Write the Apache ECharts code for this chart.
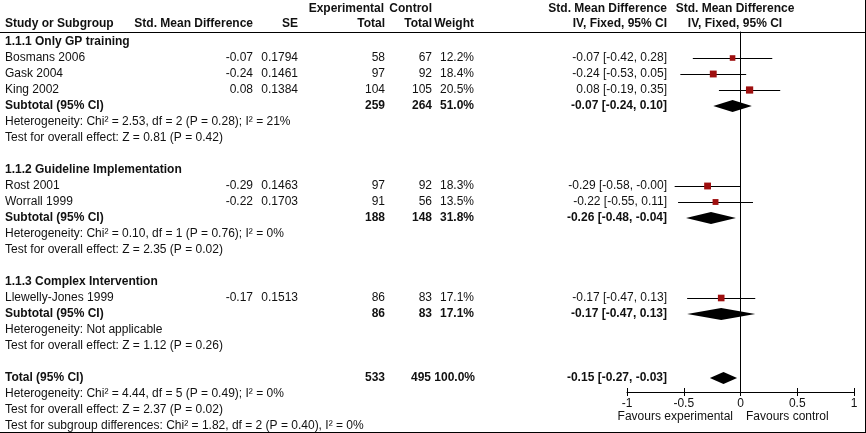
<!DOCTYPE html>
<html>
<head>
<meta charset="utf-8">
<script src="https://cdn.jsdelivr.net/npm/echarts@6/dist/echarts.min.js"></script>
<style>
html,body{margin:0;padding:0;background:#fff;}
#chart{width:866px;height:433px;}
</style>
</head>
<body>
<div id="chart"></div>
<script>
// ---------- data ----------
var studies   = ['Bosmans 2006','Gask 2004','King 2002','Rost 2001','Worrall 1999','Llewelly-Jones 1999'];
var studyRow  = [1, 2, 3, 9, 10, 16];
var smd       = [-0.07, -0.24, 0.08, -0.29, -0.22, -0.17];
var se        = ['0.1794','0.1461','0.1384','0.1463','0.1703','0.1513'];
var expTotal  = [58, 97, 104, 97, 91, 86];
var ctlTotal  = [67, 92, 105, 92, 56, 83];
var weight    = [12.2, 18.4, 20.5, 18.3, 13.5, 17.1];
var ciLow     = [-0.42, -0.53, -0.19, -0.58, -0.55, -0.47];
var ciHigh    = [0.28, 0.05, 0.35, -0.00, 0.11, 0.13];

var groupNames   = ['1.1.1 Only GP training','1.1.2 Guideline Implementation','1.1.3 Complex Intervention'];
var groupRow     = [0, 8, 15];
var subRow       = [4, 11, 17];
var subExp       = [259, 188, 86];
var subCtl       = [264, 148, 83];
var subWeight    = [51.0, 31.8, 17.1];
var subEst       = [-0.07, -0.26, -0.17];
var subLow       = [-0.24, -0.48, -0.47];
var subHigh      = [0.10, -0.04, 0.13];
var subHet       = ['Heterogeneity: Chi\u00b2 = 2.53, df = 2 (P = 0.28); I\u00b2 = 21%',
                    'Heterogeneity: Chi\u00b2 = 0.10, df = 1 (P = 0.76); I\u00b2 = 0%',
                    'Heterogeneity: Not applicable'];
var subEffect    = ['Test for overall effect: Z = 0.81 (P = 0.42)',
                    'Test for overall effect: Z = 2.35 (P = 0.02)',
                    'Test for overall effect: Z = 1.12 (P = 0.26)'];

var totalRow     = 21;
var totalExp     = 533;
var totalCtl     = 495;
var totalWeight  = 100.0;
var totalEst     = -0.15;
var totalLow     = -0.27;
var totalHigh    = -0.03;
var totalNotes   = ['Heterogeneity: Chi\u00b2 = 4.44, df = 5 (P = 0.49); I\u00b2 = 0%',
                    'Test for overall effect: Z = 2.37 (P = 0.02)',
                    'Test for subgroup differences: Chi\u00b2 = 1.82, df = 2 (P = 0.40), I\u00b2 = 0%'];

var xTicks = [-1, -0.5, 0, 0.5, 1];
var favourLeft = 'Favours experimental';
var favourRight = 'Favours control';

// ---------- layout ----------
var FONT = '"Liberation Sans", Arial, sans-serif';
var FS = 12, HFS = 12;
var TXT = '#111';
var ROW0 = 42, ROWH = 16;
var gridTop = 32, gridBottomY = 392, gridLeft = 627, gridRight = 854;
var yMin = (gridTop - ROW0) / ROWH;
var yMax = (gridBottomY - ROW0) / ROWH;
var col = {name:5, smd:253, se:298, exp:385, ctl:432, wt:474, ci:667, plot:735};

function rowY(r){ return ROW0 + r*ROWH; }
function f2(v){ return (v < 0 || Object.is(v, -0)) ? '-' + Math.abs(v).toFixed(2) : v.toFixed(2); }
function ciStr(e,l,h){ return f2(e) + ' [' + f2(l) + ', ' + f2(h) + ']'; }

var texts = [];
function T(str, x, y, align, bold, size){
  texts.push({type:'text', x:x, y:y, silent:true,
    style:{text:str, fill:TXT, font:(bold?'bold ':'') + (size||FS) + 'px ' + FONT,
           textAlign:align||'left', textVerticalAlign:'middle'}});
}
// headers
T('Experimental', 384, 9, 'right', true, HFS);
T('Control', col.ctl, 9, 'right', true, HFS);
T('Std. Mean Difference', col.ci, 9, 'right', true, HFS);
T('Std. Mean Difference', col.plot, 9, 'center', true, HFS);
T('Study or Subgroup', col.name, 24, 'left', true, HFS);
T('Std. Mean Difference', col.smd, 24, 'right', true, HFS);
T('SE', col.se, 24, 'right', true, HFS);
T('Total', col.exp, 24, 'right', true, HFS);
T('Total', col.ctl, 24, 'right', true, HFS);
T('Weight', col.wt, 24, 'right', true, HFS);
T('IV, Fixed, 95% CI', col.ci, 24, 'right', true, HFS);
T('IV, Fixed, 95% CI', col.plot, 24, 'center', true, HFS);

// studies
studies.forEach(function(s,i){
  var y = rowY(studyRow[i]);
  T(s, col.name, y, 'left');
  T(f2(smd[i]), col.smd, y, 'right');
  T(se[i], col.se, y, 'right');
  T(String(expTotal[i]), col.exp, y, 'right');
  T(String(ctlTotal[i]), col.ctl, y, 'right');
  T(weight[i].toFixed(1) + '%', col.wt, y, 'right');
  T(ciStr(smd[i], ciLow[i], ciHigh[i]), col.ci, y, 'right');
});
// groups
groupNames.forEach(function(g,i){
  T(g, col.name, rowY(groupRow[i]), 'left', true);
  var y = rowY(subRow[i]);
  T('Subtotal (95% CI)', col.name, y, 'left', true);
  T(String(subExp[i]), col.exp, y, 'right', true);
  T(String(subCtl[i]), col.ctl, y, 'right', true);
  T(subWeight[i].toFixed(1) + '%', col.wt, y, 'right', true);
  T(ciStr(subEst[i], subLow[i], subHigh[i]), col.ci, y, 'right', true);
  T(subHet[i], col.name, rowY(subRow[i] + 1), 'left');
  T(subEffect[i], col.name, rowY(subRow[i] + 2), 'left');
});
// total
(function(){
  var y = rowY(totalRow);
  T('Total (95% CI)', col.name, y, 'left', true);
  T(String(totalExp), col.exp, y, 'right', true);
  T(String(totalCtl), col.ctl - 1, y, 'right', true);
  T(totalWeight.toFixed(1) + '%', col.wt + 1, y, 'right', true);
  T(ciStr(totalEst, totalLow, totalHigh), col.ci, y, 'right', true);
  totalNotes.forEach(function(n,k){ T(n, col.name, rowY(totalRow + 1 + k), 'left'); });
})();
T(favourLeft, 733, 417, 'right');
T(favourRight, 746, 417, 'left');

// frame lines
var lines = [
  {type:'line', silent:true, shape:{x1:0, y1:32.5, x2:866, y2:32.5}, style:{stroke:'#000', lineWidth:1}},
  {type:'line', silent:true, shape:{x1:0, y1:432.5, x2:866, y2:432.5}, style:{stroke:'#000', lineWidth:1}},
  {type:'line', silent:true, shape:{x1:865.5, y1:0, x2:865.5, y2:433}, style:{stroke:'#000', lineWidth:1}}
];

var studyData = studyRow.map(function(r,i){ return [smd[i], r, ciLow[i], ciHigh[i], weight[i]]; });
var diamondData = subRow.map(function(r,i){ return [subEst[i], r, subLow[i], subHigh[i]]; });
diamondData.push([totalEst, totalRow, totalLow, totalHigh]);

var baseX = {type:'value', min:xTicks[0], max:xTicks[xTicks.length-1], interval:0.5, position:'bottom', splitLine:{show:false}};
var chart = echarts.init(document.getElementById('chart'), null, {renderer:'canvas'});
chart.setOption({
  animation:false,
  backgroundColor:'#fff',
  grid:{left:gridLeft, top:gridTop, width:gridRight-gridLeft, height:gridBottomY-gridTop, containLabel:false},
  xAxis:[
    Object.assign({}, baseX, {
      axisLine:{show:true, onZero:false, lineStyle:{color:'#000', width:1}},
      axisTick:{show:true, length:4, lineStyle:{color:'#000'}},
      axisLabel:{show:true, color:TXT, fontFamily:FONT, fontSize:FS, margin:6,
        formatter:function(v){ return String(v); }}}),
    Object.assign({}, baseX, {
      axisLine:{show:false, onZero:false},
      axisTick:{show:true, inside:true, length:4, lineStyle:{color:'#000'}},
      axisLabel:{show:false}})
  ],
  yAxis:{type:'value', inverse:true, min:yMin, max:yMax,
    axisLine:{show:true, onZero:true, lineStyle:{color:'#000', width:1}},
    axisTick:{show:false}, axisLabel:{show:false}, splitLine:{show:false}},
  graphic:{elements: lines.concat(texts)},
  series:[
    {type:'custom', coordinateSystem:'cartesian2d', data:studyData,
     renderItem:function(params, api){
       var y = api.value(1);
       var c = api.coord([api.value(0), y]);
       var lo = api.coord([api.value(2), y]);
       var hi = api.coord([api.value(3), y]);
       var s = 1.6*Math.sqrt(api.value(4));
       var yy = Math.round(c[1]) + 0.5;
       return {type:'group', children:[
         {type:'line', shape:{x1:lo[0], y1:yy, x2:hi[0], y2:yy}, style:{stroke:'#000', lineWidth:1}},
         {type:'rect', shape:{x:c[0]-s/2, y:c[1]-s/2, width:s, height:s}, style:{fill:'#9e0f0f'}}
       ]};
     }},
    {type:'custom', coordinateSystem:'cartesian2d', data:diamondData,
     renderItem:function(params, api){
       var y = api.value(1);
       var c = api.coord([api.value(0), y]);
       var lo = api.coord([api.value(2), y]);
       var hi = api.coord([api.value(3), y]);
       var h = 6;
       return {type:'polygon', shape:{points:[[lo[0],c[1]],[c[0],c[1]-h],[hi[0],c[1]],[c[0],c[1]+h]]},
               style:{fill:'#000'}};
     }}
  ]
});
</script>
</body>
</html>
